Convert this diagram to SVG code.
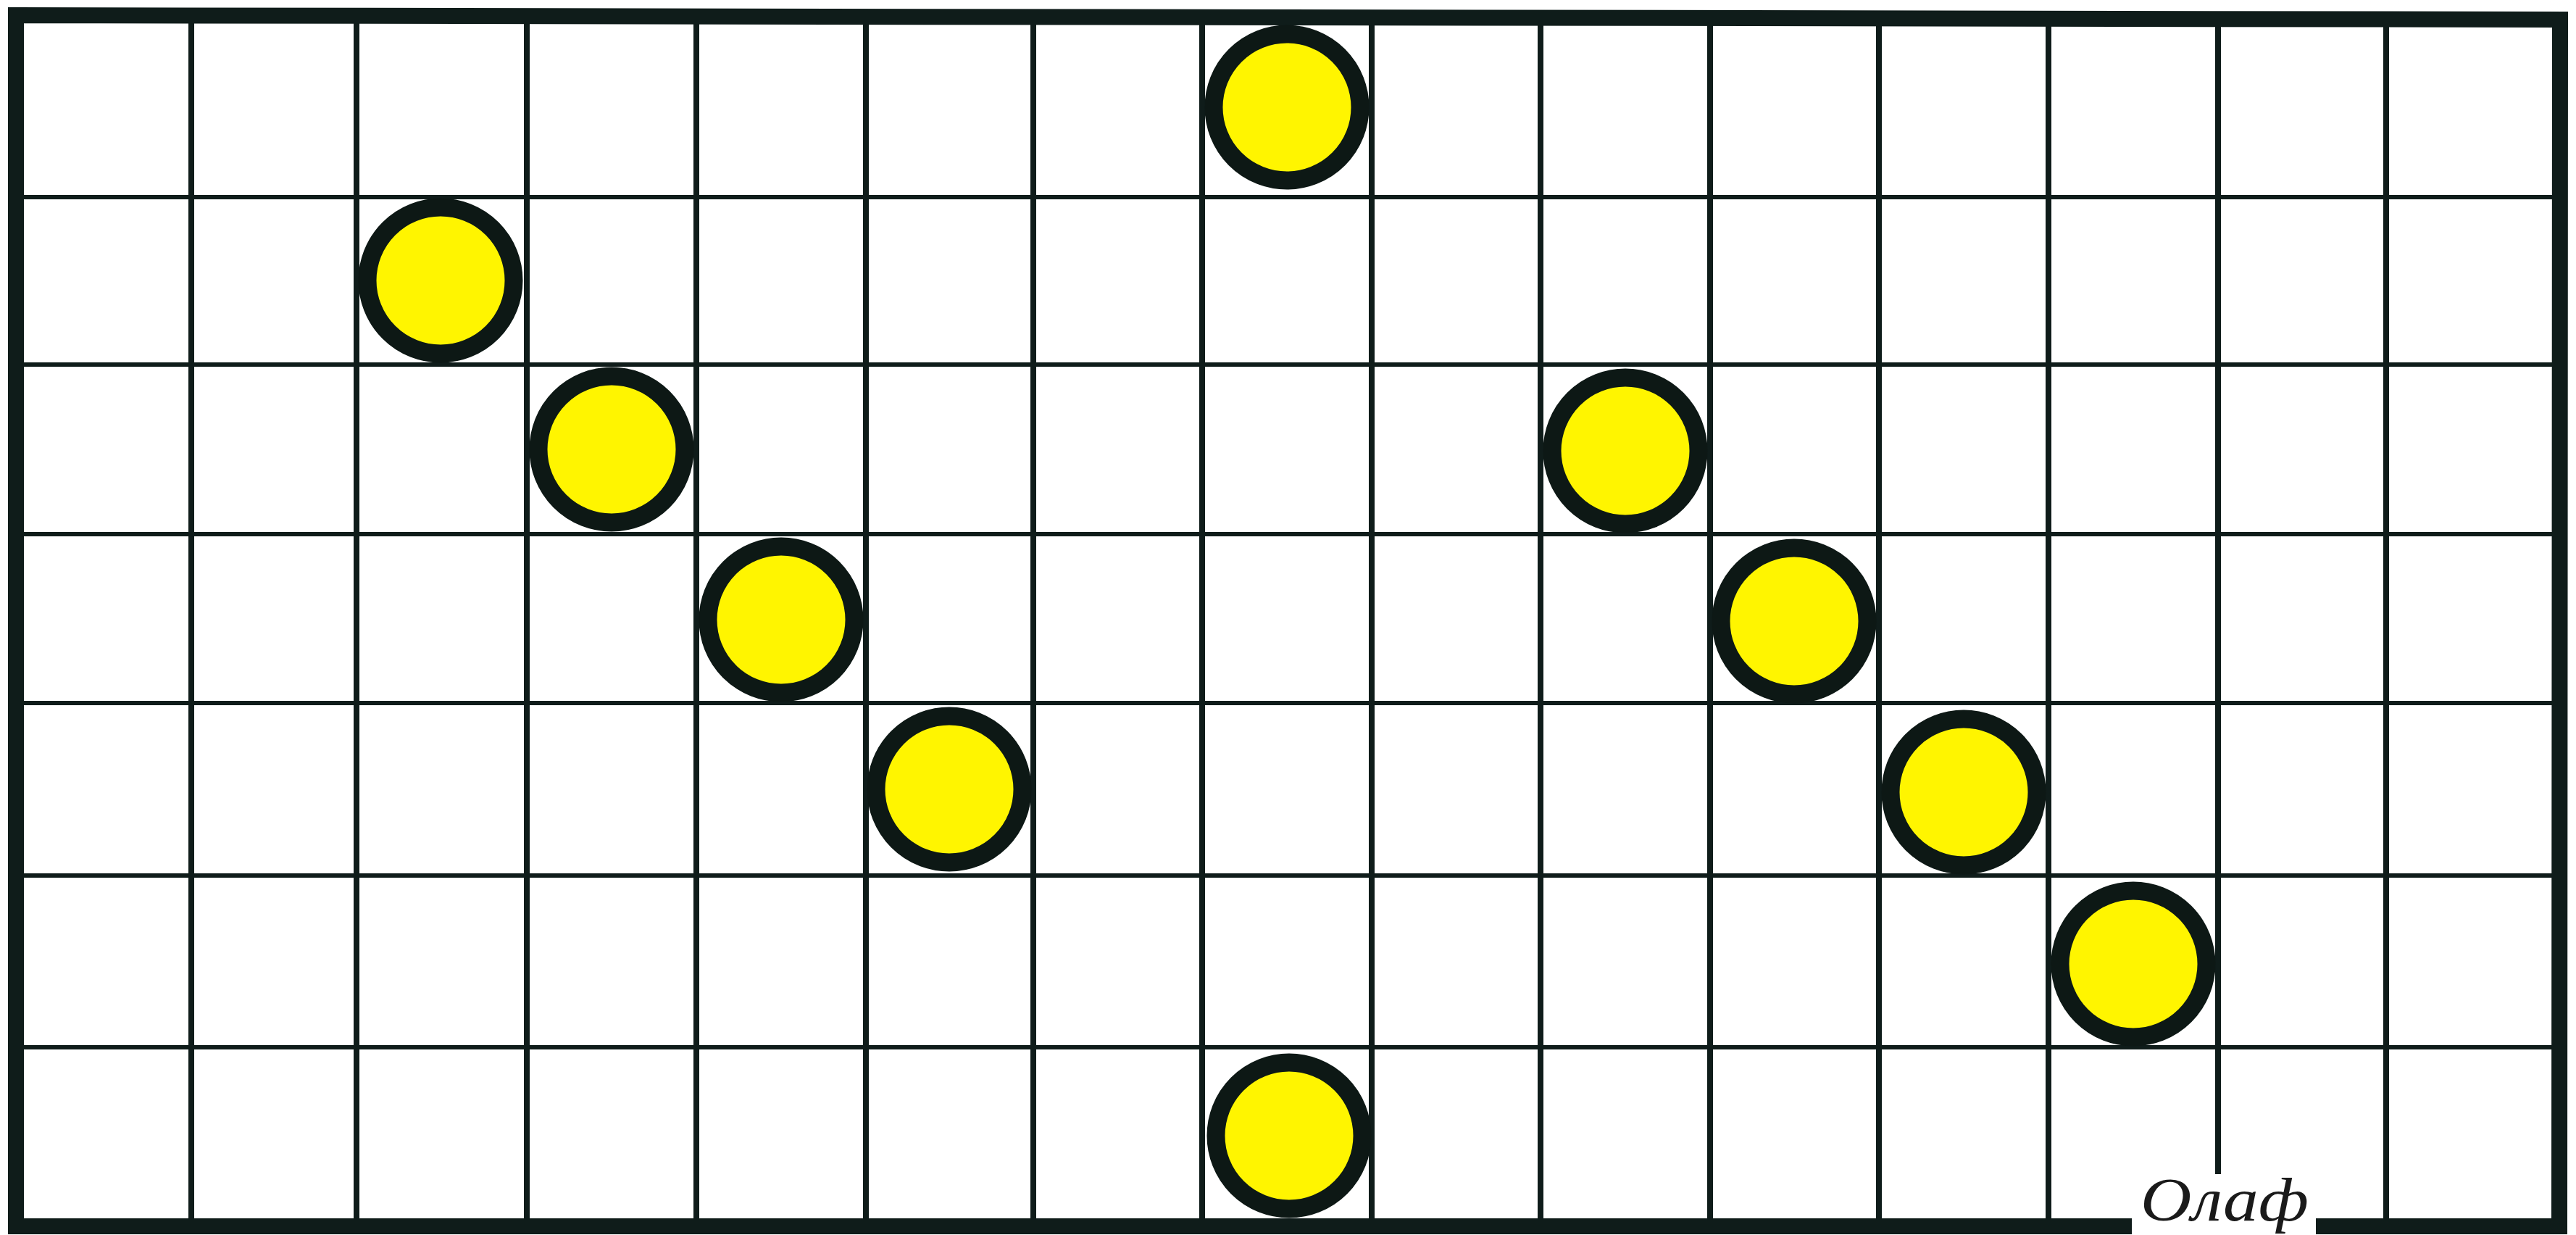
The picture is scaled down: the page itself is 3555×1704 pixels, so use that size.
<svg xmlns="http://www.w3.org/2000/svg" width="3555" height="1704" viewBox="0 0 3555 1704">
  <style>
    .bg { fill: #ffffff; }
    .grid line { stroke: #0f1c1a; stroke-linecap: butt; }
    .v { stroke-width: 8; }
    .h { stroke-width: 6; }
    .border { fill: none; stroke: #0f1c1a; stroke-width: 22; stroke-linejoin: miter; }
    .dot { fill: #fff500; stroke: #0d1815; stroke-width: 25; }
    .label { font-family: "Liberation Serif", "DejaVu Serif", serif; font-style: italic; font-size: 84px; fill: #1a1a1a; }
  </style>
  <rect class="bg" x="0" y="0" width="3555" height="1704"/>
  <g id="grid" class="grid">
    <line class="v" x1="264" y1="25" x2="264" y2="1692"/>
    <line class="v" x1="492" y1="25" x2="492" y2="1692"/>
    <line class="v" x1="727" y1="25" x2="727" y2="1692"/>
    <line class="v" x1="961" y1="25" x2="961" y2="1692"/>
    <line class="v" x1="1195" y1="25" x2="1195" y2="1692"/>
    <line class="v" x1="1426" y1="25" x2="1426" y2="1692"/>
    <line class="v" x1="1659" y1="25" x2="1659" y2="1692"/>
    <line class="v" x1="1893" y1="25" x2="1893" y2="1692"/>
    <line class="v" x1="2126" y1="25" x2="2126" y2="1692"/>
    <line class="v" x1="2360" y1="25" x2="2360" y2="1692"/>
    <line class="v" x1="2593" y1="25" x2="2593" y2="1692"/>
    <line class="v" x1="2827" y1="25" x2="2827" y2="1692"/>
    <line class="v" x1="3061" y1="25" x2="3061" y2="1620"/>
    <line class="v" x1="3293" y1="25" x2="3293" y2="1692"/>
    <line class="h" x1="20" y1="272" x2="3533" y2="272"/>
    <line class="h" x1="20" y1="503" x2="3533" y2="503"/>
    <line class="h" x1="20" y1="737" x2="3533" y2="737"/>
    <line class="h" x1="20" y1="970" x2="3533" y2="970"/>
    <line class="h" x1="20" y1="1208" x2="3533" y2="1208"/>
    <line class="h" x1="20" y1="1445" x2="3533" y2="1445"/>
    <path class="border" d="M22,21 L3533,27 L3532,1692 L22,1692 Z"/>
  </g>
  <g id="connectors"></g>
  <g id="node-1"><circle class="dot" cx="1776" cy="148" r="101"/></g>
  <g id="node-2"><circle class="dot" cx="608" cy="387" r="101"/></g>
  <g id="node-3"><circle class="dot" cx="844" cy="620" r="101"/></g>
  <g id="node-4"><circle class="dot" cx="1078" cy="855" r="101"/></g>
  <g id="node-5"><circle class="dot" cx="1310" cy="1089" r="101"/></g>
  <g id="node-6"><circle class="dot" cx="2243" cy="622" r="101"/></g>
  <g id="node-7"><circle class="dot" cx="2476" cy="857" r="101"/></g>
  <g id="node-8"><circle class="dot" cx="2710" cy="1093" r="101"/></g>
  <g id="node-9"><circle class="dot" cx="2944" cy="1330" r="101"/></g>
  <g id="node-10"><circle class="dot" cx="1779" cy="1567" r="101"/></g>
  <g id="caption">
    <rect x="2942" y="1622" width="254" height="82" fill="#ffffff"/>
    <text class="label" x="2954" y="1684" textLength="232" lengthAdjust="spacingAndGlyphs">Олаф</text>
  </g>
</svg>
